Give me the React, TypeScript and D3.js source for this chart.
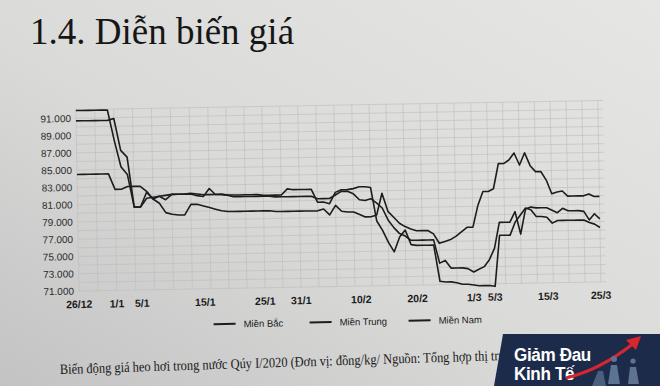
import React from "react";
import * as d3 from "d3";

// ---- data (giá heo hơi, nghìn đồng/kg) ----
const startDate = new Date(2019, 11, 26);
const endDate = new Date(2020, 2, 25);
const dates: Date[] = d3.timeDay.range(startDate, d3.timeDay.offset(endDate, 1));

const mienBac = [
  91.9, 91.9, 91.9, 91.9, 91.9, 91.9, 88.4, 85.3, 84.4, 80.6, 80.6, 82.3, 81.5, 81.8, 81.4, 82.0, 82.0, 82.0, 82.0, 81.8,
  81.7, 82.6, 81.9, 81.9, 81.8, 81.8, 81.8, 81.8, 81.8, 81.8, 81.7, 81.7, 81.7, 81.7, 82.4, 82.3, 82.3, 82.3, 82.3, 80.8,
  80.8, 80.6, 81.9, 82.2, 82.2, 82.3, 82.5, 82.5, 82.4, 78.5, 77.4, 76.0, 74.9, 76.6, 77.4, 75.7, 75.6, 75.6, 75.6, 75.6,
  71.4, 71.3, 71.3, 71.2, 71.0, 71.0, 70.9, 70.8, 70.8, 70.8, 70.7, 76.6, 76.6, 76.6, 78.1, 78.9, 79.7, 79.5, 78.7, 78.7,
  78.6, 77.9, 78.2, 78.2, 78.2, 78.2, 78.2, 78.2, 77.9, 77.7, 77.3,
];
const mienTrung = [
  90.7, 90.7, 90.7, 90.7, 90.7, 90.7, 90.9, 87.2, 86.4, 80.6, 80.6, 81.6, 81.7, 81.8, 81.9, 82.0, 82.0, 82.0, 82.1, 82.0,
  81.9, 81.9, 81.9, 81.9, 81.8, 81.6, 81.6, 81.6, 81.6, 81.6, 81.6, 81.6, 81.5, 81.5, 81.5, 81.5, 81.5, 81.5, 81.5, 81.2,
  81.2, 81.2, 81.6, 82.0, 82.0, 81.7, 81.0, 80.9, 81.1, 80.6, 80.0, 78.6, 77.7, 77.0, 76.7, 76.2, 76.2, 76.2, 76.2, 76.2,
  73.5, 73.8, 72.9, 72.9, 72.9, 72.8, 72.4, 72.7, 73.0, 73.8, 75.1, 78.1, 78.1, 78.1, 79.3, 76.7, 79.6, 79.8, 79.7, 79.7,
  79.7, 79.4, 79.1, 79.6, 79.3, 79.3, 79.3, 79.2, 78.2, 78.9, 78.3,
];
const mienNam = [
  84.5, 84.5, 84.5, 84.5, 84.5, 84.5, 82.7, 82.7, 83.0, 83.0, 83.0, 82.4, 81.5, 81.0, 79.9, 79.7, 79.6, 79.6, 80.8, 80.8,
  80.6, 80.4, 80.2, 80.0, 79.9, 79.9, 79.9, 79.9, 79.9, 79.9, 79.9, 79.9, 79.8, 79.8, 79.8, 79.8, 79.8, 79.8, 79.8, 79.8,
  80.0, 79.3, 80.4, 79.7, 79.6, 79.6, 79.3, 79.0, 79.0, 79.2, 81.7, 79.6, 78.9, 78.2, 77.8, 77.5, 77.3, 77.3, 77.3, 76.9,
  75.8, 76.0, 76.2, 76.6, 77.1, 77.6, 77.6, 80.1, 81.7, 81.7, 82.0, 84.9, 84.9, 85.3, 86.1, 84.7, 86.1, 84.6, 83.9, 83.9,
  82.9, 81.3, 81.5, 81.6, 81.0, 81.0, 81.0, 81.0, 81.2, 80.9, 80.9,
];

const seriesNames = ["Miền Bắc", "Miền Trung", "Miền Nam"];
const seriesValues = [mienBac, mienTrung, mienNam];

const yTicks = [71, 73, 75, 77, 79, 81, 83, 85, 87, 89, 91];
const xTickLabels = ["26/12", "1/1", "5/1", "15/1", "25/1", "31/1", "10/2", "20/2", "1/3", "5/3", "15/3", "25/3"];
const xTickDates = [
  new Date(2019, 11, 26), new Date(2020, 0, 1), new Date(2020, 0, 5), new Date(2020, 0, 15),
  new Date(2020, 0, 25), new Date(2020, 0, 31), new Date(2020, 1, 10), new Date(2020, 1, 20),
  new Date(2020, 2, 1), new Date(2020, 2, 5), new Date(2020, 2, 15), new Date(2020, 2, 25),
];

const title = "1.4. Diễn biến giá";
const caption = "Biến động giá heo hơi trong nước Qúy I/2020 (Đơn vị: đồng/kg/ Nguồn: Tổng hợp thị trường)";

const viLocale = d3.formatLocale({ decimal: ",", thousands: ".", grouping: [3], currency: ["", "đ"] });
const fmt = viLocale.format(",");

export default function App() {
  const W = 660, H = 386;
  const x = d3
    .scaleTime()
    .domain([new Date(2019, 11, 26), new Date(2020, 0, 15), new Date(2020, 1, 10), new Date(2020, 2, 1), new Date(2020, 2, 25)])
    .range([79, 205, 361, 474, 601]);
  const y = d3.scaleLinear().domain([71, 91]).range([291, 118.3]);

  const line = d3
    .line<number>()
    .x((_, i) => x(dates[i]))
    .y((v) => y(v));

  const gridY = d3.range(71, 93, 1);
  const gridX = d3.timeDay.range(new Date(2019, 11, 26), new Date(2020, 2, 28), 1).filter((_, i) => i % 3 === 0);
  const gx0 = 79, gx1 = 606;

  const sans = "'Liberation Sans', Arial, sans-serif";
  const serif = "'Liberation Serif', 'Times New Roman', serif";
  const ink = "#1d1d1d";

  const legendX = [213, 309, 408];

  return (
    <svg width={W} height={H} style={{ position: "absolute", left: 0, top: 0, display: "block" }}>
      <defs>
        <linearGradient id="paper" x1="1" y1="0" x2="0" y2="1">
          <stop offset="0" stopColor="#e6e6e4" />
          <stop offset="0.55" stopColor="#dadad9" />
          <stop offset="1" stopColor="#c3c3c3" />
        </linearGradient>
      </defs>
      <rect x={0} y={0} width={W} height={H} fill="url(#paper)" />

      <text x={30} y={44} fontFamily={serif} fontSize={37} fill="#161616">
        {title}
      </text>

      <g transform="rotate(-1, 79, 291)">
        {/* grid */}
        {gridY.map((v) => (
          <line key={"gy" + v} x1={gx0} x2={gx1} y1={y(v)} y2={y(v)} stroke="#bcbcbc" strokeWidth={0.6} />
        ))}
        {gridX.map((d, i) => (
          <line key={"gx" + i} x1={x(d)} x2={x(d)} y1={y(92)} y2={y(71)} stroke="#bcbcbc" strokeWidth={0.6} />
        ))}

        {/* y tick labels */}
        {yTicks.map((v) => (
          <text key={"yt" + v} x={74} y={y(v) + 3.6} textAnchor="end" fontFamily={sans} fontSize={10} fill="#2a2a2a">
            {fmt(v * 1000)}
          </text>
        ))}

        {/* x tick labels */}
        {xTickDates.map((d, i) => (
          <text key={"xt" + i} x={x(d)} y={308} textAnchor="middle" fontFamily={sans} fontWeight="bold" fontSize={10.5} fill="#1a1a1a">
            {xTickLabels[i]}
          </text>
        ))}

        {/* series */}
        {seriesValues.map((vals, k) => (
          <path key={"s" + k} d={line(vals) || ""} fill="none" stroke={ink} strokeWidth={1.6} strokeLinejoin="round" />
        ))}

        {/* legend */}
        {seriesNames.map((name, k) => (
          <g key={"lg" + k}>
            <line x1={legendX[k]} x2={legendX[k] + 22} y1={326.5} y2={326.5} stroke={ink} strokeWidth={2} />
            <text x={legendX[k] + 30} y={330} fontFamily={sans} fontSize={9.5} fill="#1a1a1a">
              {name}
            </text>
          </g>
        ))}
      </g>

      <g transform="rotate(-1.8, 60, 374) translate(60, 374) scale(0.87, 1)">
        <text x={0} y={0} fontFamily={serif} fontSize={14.3} fill="#1a1a1a">
          {caption}
        </text>
      </g>

      {/* logo */}
      <g>
        <polygon points="503,334 660,334 660,386 494,386" fill="#1c2b4a" />
        <g transform="translate(514, 361) scale(0.9, 1)">
          <text x={0} y={0} fontFamily={sans} fontWeight="bold" fontSize={19} fill="#ffffff" letterSpacing={-0.4}>
            Giảm Đau
          </text>
          <text x={0} y={19} fontFamily={sans} fontWeight="bold" fontSize={19} fill="#ffffff" letterSpacing={-0.4}>
            Kinh Tế
          </text>
        </g>
        <path d="M566,378 Q600,370 634,343" fill="none" stroke="#d8262e" strokeWidth={3} />
        <polygon points="641,336 626,340 636,350" fill="#d8262e" />
        <circle cx={614} cy={359} r={3} fill="#5d7391" />
        <path d="M608,384 L611,365 L617,365 L620,384 Z" fill="#5d7391" />
        <circle cx={633} cy={361} r={2.6} fill="#5d7391" />
        <path d="M628,384 L630,367 L636,367 L639,384 Z" fill="#5d7391" />
        <path d="M592,386 L598,371 L603,371 L606,386 Z" fill="#4a5f7d" />
      </g>
    </svg>
  );
}
